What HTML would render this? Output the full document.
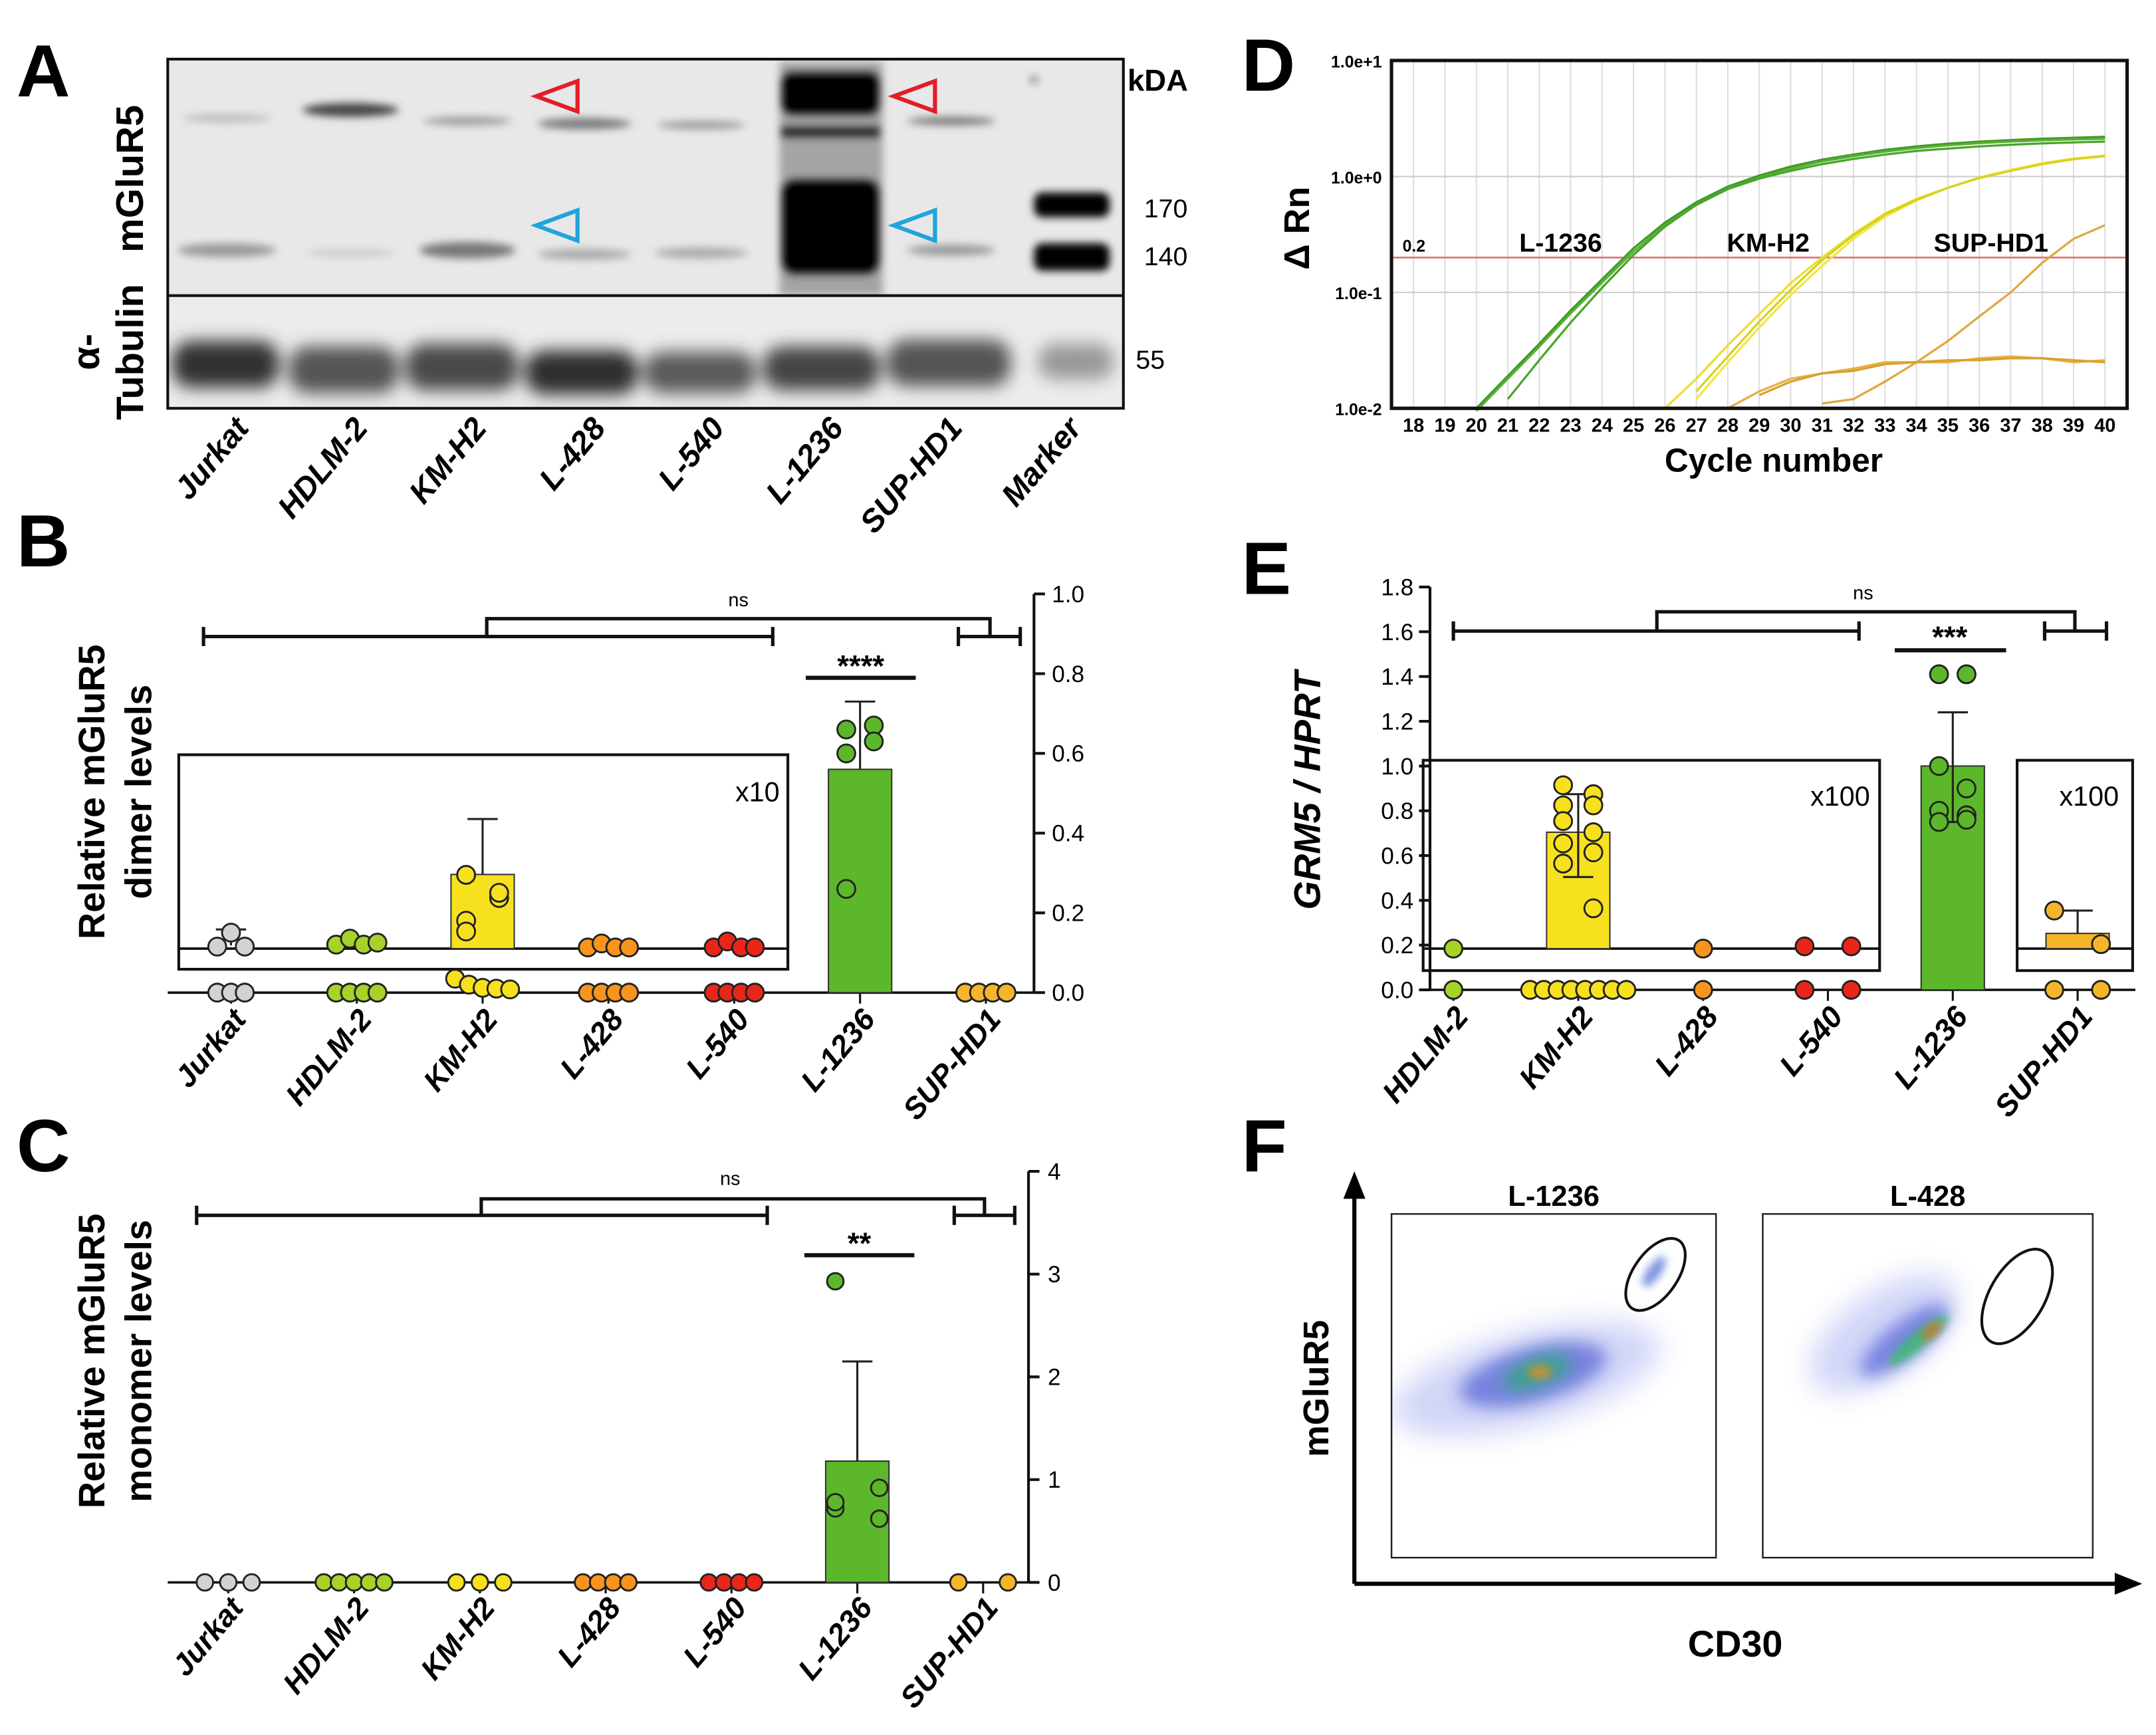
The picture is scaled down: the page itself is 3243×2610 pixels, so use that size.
<!DOCTYPE html>
<html><head><meta charset="utf-8"><style>
html,body{margin:0;padding:0;background:#fff;}
svg{display:block;font-family:"Liberation Sans",Arial,sans-serif;}
</style></head><body>
<svg id="fig" xmlns="http://www.w3.org/2000/svg" width="3243" height="2610" viewBox="0 0 1568 1262" preserveAspectRatio="none">
<defs>
<filter id="blur3" x="-50%" y="-50%" width="200%" height="200%"><feGaussianBlur stdDeviation="3"/></filter>
<filter id="blur6" x="-50%" y="-50%" width="200%" height="200%"><feGaussianBlur stdDeviation="6"/></filter>
<filter id="blur10" x="-50%" y="-50%" width="200%" height="200%"><feGaussianBlur stdDeviation="10"/></filter>
<clipPath id="blotTop"><rect x="122" y="43" width="695" height="172"/></clipPath>
<clipPath id="blotBot"><rect x="122" y="215" width="695" height="82"/></clipPath>
<clipPath id="f1"><rect x="1012" y="883" width="236" height="250"/></clipPath>
<clipPath id="f2"><rect x="1282" y="883" width="240" height="250"/></clipPath>
</defs>

<text x="12" y="70" font-size="54" font-weight="bold">A</text>
<text x="12" y="412" font-size="54" font-weight="bold">B</text>
<text x="12" y="852" font-size="54" font-weight="bold">C</text>
<text x="903" y="66" font-size="54" font-weight="bold">D</text>
<text x="903" y="432" font-size="54" font-weight="bold">E</text>
<text x="903" y="852" font-size="54" font-weight="bold">F</text>

<g>
<g clip-path="url(#blotTop)">
<rect x="122" y="43" width="695" height="172" fill="#e8e8e8"/>
<g filter="url(#blur3)" fill="#555">
<ellipse cx="165" cy="86" rx="32" ry="3" fill="#bbb"/>
<ellipse cx="255" cy="80" rx="35" ry="5" fill="#444"/>
<ellipse cx="340" cy="88" rx="32" ry="3" fill="#999"/>
<ellipse cx="425" cy="90" rx="34" ry="4" fill="#777"/>
<ellipse cx="510" cy="91" rx="32" ry="3" fill="#999"/>
<ellipse cx="692" cy="88" rx="32" ry="3" fill="#777"/>
<ellipse cx="165" cy="182" rx="36" ry="5" fill="#999"/>
<ellipse cx="255" cy="184" rx="32" ry="3" fill="#ccc"/>
<ellipse cx="340" cy="182" rx="35" ry="6" fill="#777"/>
<ellipse cx="425" cy="185" rx="34" ry="4" fill="#aaa"/>
<ellipse cx="510" cy="184" rx="34" ry="4" fill="#aaa"/>
<ellipse cx="692" cy="182" rx="32" ry="4" fill="#999"/>
</g>
<g filter="url(#blur3)">
<rect x="567" y="45" width="75" height="170" fill="#777" opacity="0.6"/>
<rect x="568" y="52" width="72" height="32" rx="8" fill="#000"/>
<rect x="568" y="92" width="72" height="8" fill="#222"/>
<rect x="568" y="130" width="72" height="70" rx="10" fill="#000"/>
<rect x="752" y="140" width="55" height="18" rx="6" fill="#000"/>
<rect x="752" y="177" width="55" height="20" rx="6" fill="#000"/>
<circle cx="752" cy="58" r="2" fill="#222"/>
</g>
</g>
<g clip-path="url(#blotBot)">
<rect x="122" y="215" width="695" height="82" fill="#ececec"/>
<g filter="url(#blur6)">
<rect x="125" y="248" width="78" height="34" rx="14" fill="#333"/>
<rect x="210" y="252" width="80" height="34" rx="14" fill="#555"/>
<rect x="295" y="250" width="82" height="34" rx="14" fill="#4a4a4a"/>
<rect x="382" y="255" width="82" height="32" rx="14" fill="#2e2e2e"/>
<rect x="468" y="256" width="82" height="30" rx="14" fill="#5a5a5a"/>
<rect x="555" y="252" width="85" height="32" rx="14" fill="#444"/>
<rect x="645" y="247" width="90" height="34" rx="14" fill="#555"/>
<rect x="755" y="250" width="55" height="26" rx="12" fill="#999"/>
</g>
</g>
<rect x="122" y="43" width="695" height="254" fill="none" stroke="#111" stroke-width="2"/>
<line x1="122" y1="215" x2="817" y2="215" stroke="#111" stroke-width="2"/>
<polygon points="390,70 420,59 420,81" fill="none" stroke="#e41e26" stroke-width="3"/>
<polygon points="650,70 680,59 680,81" fill="none" stroke="#e41e26" stroke-width="3"/>
<polygon points="390,164 420,153 420,175" fill="none" stroke="#1ea5dc" stroke-width="3"/>
<polygon points="650,164 680,153 680,175" fill="none" stroke="#1ea5dc" stroke-width="3"/>
<text x="820" y="66" font-size="22" font-weight="bold">kDA</text>
<text x="832" y="158" font-size="19">170</text>
<text x="832" y="193" font-size="19">140</text>
<text x="826" y="268" font-size="19">55</text>
<text transform="translate(104,130) rotate(-90)" text-anchor="middle" font-size="28" font-weight="bold">mGluR5</text>
<text transform="translate(72,256) rotate(-90)" text-anchor="middle" font-size="28" font-weight="bold">α-</text>
<text transform="translate(104,256) rotate(-90)" text-anchor="middle" font-size="28" font-weight="bold">Tubulin</text>
<g id="blotLanes"></g>
</g>

<g id="panelB"></g>
<g id="panelC"></g>
<g id="panelD"></g>
<g id="panelE"></g>

<g>
<line x1="985" y1="1152" x2="985" y2="870" stroke="#000" stroke-width="3"/>
<polygon points="977,872 993,872 985,852" fill="#000"/>
<line x1="985" y1="1152" x2="1540" y2="1152" stroke="#000" stroke-width="3"/>
<polygon points="1538,1144 1538,1160 1558,1152" fill="#000"/>
<text transform="translate(966,1010) rotate(-90)" text-anchor="middle" font-size="26" font-weight="bold">mGluR5</text>
<text x="1262" y="1205" text-anchor="middle" font-size="27" font-weight="bold">CD30</text>
<text x="1130" y="877" text-anchor="middle" font-size="21" font-weight="bold">L-1236</text>
<text x="1402" y="877" text-anchor="middle" font-size="21" font-weight="bold">L-428</text>
<g clip-path="url(#f1)">
<ellipse cx="1110" cy="1003" rx="100" ry="34" transform="rotate(-15 1110 1003)" fill="#4a5ae0" opacity="0.25" filter="url(#blur10)"/>
<ellipse cx="1115" cy="1000" rx="55" ry="20" transform="rotate(-15 1115 1000)" fill="#2230c8" opacity="0.5" filter="url(#blur6)"/>
<ellipse cx="1118" cy="998" rx="26" ry="10" transform="rotate(-20 1118 998)" fill="#22b070" opacity="0.75" filter="url(#blur6)"/>
<ellipse cx="1120" cy="998" rx="9" ry="5" fill="#e09020" opacity="0.8" filter="url(#blur3)"/>
<ellipse cx="1203" cy="925" rx="13" ry="5" transform="rotate(-55 1203 925)" fill="#2a50d0" opacity="0.6" filter="url(#blur3)"/>
<ellipse cx="1204" cy="927" rx="30" ry="16" transform="rotate(-55 1204 927)" fill="none" stroke="#111" stroke-width="2"/>
</g>
<rect x="1012" y="883" width="236" height="250" fill="none" stroke="#222" stroke-width="1.2"/>
<g clip-path="url(#f2)">
<ellipse cx="1370" cy="970" rx="62" ry="30" transform="rotate(-35 1370 970)" fill="#4a5ae0" opacity="0.25" filter="url(#blur10)"/>
<ellipse cx="1385" cy="975" rx="40" ry="13" transform="rotate(-38 1385 975)" fill="#2230c8" opacity="0.5" filter="url(#blur6)"/>
<ellipse cx="1395" cy="975" rx="28" ry="6" transform="rotate(-40 1395 975)" fill="#30c060" opacity="0.75" filter="url(#blur3)"/>
<ellipse cx="1405" cy="968" rx="9" ry="4" transform="rotate(-40 1405 968)" fill="#e07020" opacity="0.8" filter="url(#blur3)"/>
<ellipse cx="1467" cy="943" rx="38" ry="20" transform="rotate(-60 1467 943)" fill="none" stroke="#111" stroke-width="2"/>
</g>
<rect x="1282" y="883" width="240" height="250" fill="none" stroke="#222" stroke-width="1.2"/>
</g>

<script>
const catsB = ['Jurkat','HDLM-2','KM-H2','L-428','L-540','L-1236','SUP-HD1'];
const colors = ['#d2d2d2','#a6d22a','#f7e11e','#f7941d','#e8261a','#5cb82a','#f5b52a'];
const blotLanes = ['Jurkat','HDLM-2','KM-H2','L-428','L-540','L-1236','SUP-HD1','Marker'];

const bTicks = [0,0.2,0.4,0.6,0.8,1.0];
const bBarMain = [0,0,0,0,0,0.56,0];
const bErrMain = [0,0,0,0,0,0.73,0];
const bPtsMain = [[0,0,0],[0,0,0,0],[0.035,0.02,0.012,0.01,0.008],[0,0,0,0],[0,0,0,0],[0.66,0.67,0.60,0.63,0.26],[0,0,0,0]];
const bBarInset = [0.0008,0,0.0186,0,0,null,null];
const bErrInset = [0.0048,0,0.0325,0,0,null,null];
const bPtsInset = [[0.0005,0.0040,0.0005],[0.0010,0.0025,0.0010,0.0015],[0.0070,0.0127,0.0185,0.0140,0.0043],[0.0003,0.0013,0.0003,0.0003],[0.0003,0.0018,0.0003,0.0003],null,null];

const cTicks = [0,1,2,3,4];
const cBar = [0,0,0,0,0,1.18,0];
const cErr = [0,0,0,0,0,2.15,0];
const cPts = [[0,0,0],[0,0,0,0,0],[0,0,0],[0,0,0,0],[0,0,0,0],[0.72,0.62,2.93,0.92,0.78],[0,0]];

const dCycles = [18,19,20,21,22,23,24,25,26,27,28,29,30,31,32,33,34,35,36,37,38,39,40];
const dTickLabels = ['1.0e+1','1.0e+0','1.0e-1','1.0e-2'];
const dL1236a = [null,null,0.010,0.019,0.036,0.07,0.13,0.24,0.40,0.60,0.82,1.02,1.22,1.40,1.55,1.70,1.82,1.92,2.00,2.06,2.12,2.16,2.20];
const dL1236b = [null,null,0.0095,0.018,0.034,0.066,0.122,0.225,0.38,0.57,0.78,0.98,1.17,1.35,1.50,1.64,1.76,1.86,1.94,2.00,2.05,2.09,2.12];
const dL1236c = [null,null,null,0.012,0.026,0.055,0.11,0.21,0.37,0.57,0.78,0.96,1.12,1.28,1.42,1.55,1.66,1.74,1.82,1.88,1.93,1.97,2.00];
const dKMH2a = [null,null,null,null,null,null,null,null,0.010,0.018,0.035,0.065,0.12,0.20,0.32,0.48,0.64,0.80,0.98,1.14,1.30,1.43,1.52];
const dKMH2b = [null,null,null,null,null,null,null,null,null,0.012,0.025,0.050,0.095,0.17,0.29,0.45,0.62,0.80,0.98,1.14,1.30,1.43,1.52];
const dKMH2c = [null,null,null,null,null,null,null,null,null,0.014,0.028,0.056,0.105,0.19,0.31,0.47,0.63,0.80,0.97,1.12,1.28,1.41,1.50];
const dSUPa = [null,null,null,null,null,null,null,null,null,null,null,null,null,0.011,0.012,0.017,0.025,0.038,0.062,0.10,0.18,0.29,0.38];
const dSUPb = [null,null,null,null,null,null,null,null,null,null,0.010,0.014,0.018,0.020,0.022,0.025,0.025,0.025,0.027,0.028,0.027,0.025,0.026];
const dSUPc = [null,null,null,null,null,null,null,null,null,null,null,0.013,0.017,0.020,0.021,0.024,0.025,0.026,0.026,0.027,0.027,0.026,0.025];
const dThreshold = 0.2;

const catsE = ['HDLM-2','KM-H2','L-428','L-540','L-1236','SUP-HD1'];
const colorsE = ['#a6d22a','#f7e11e','#f7941d','#e8261a','#5cb82a','#f5b52a'];
const eTicks = [0,0.2,0.4,0.6,0.8,1.0,1.2,1.4,1.6,1.8];
const eBarMain = [0,0,0,0,1.0,0];
const eErrHiMain = [0,0,0,0,1.24,0];
const eErrLoMain = [0,0,0,0,0.75,0];
const ePtsMain = [[0],[0,0,0,0,0,0,0,0],[0],[0,0],[1.41,1.41,1.0,0.9,0.8,0.78,0.75,0.76],[0,0]];
const eBarInset = [0,0.0052,0,0.0001,null,0.00068];
const eErrHiInset = [0,0.0069,0,0,null,0.0017];
const eErrLoInset = [0,0.0032,0,0,null,0];
const ePtsInset = [[0],[0.0073,0.0069,0.0064,0.0064,0.0057,0.0052,0.0047,0.0043,0.0038,0.0018],[0],[0.0001,0.0001],null,[0.0017,0.0002]];

const NS = 'http://www.w3.org/2000/svg';
function mk(parent, tag, attrs, name) {
  const el = document.createElementNS(NS, tag);
  for (const k in attrs) el.setAttribute(k, attrs[k]);
  
  
  parent.appendChild(el);
  return el;
}
function txt(parent, x, y, s, size, name, extra) {
  const t = mk(parent, 'text', Object.assign({x:x, y:y, 'font-size':size}, extra||{}), name);
  t.textContent = s;
  return t;
}
function catLabel(parent, x, y, s, name, size) {
  const t = mk(parent, 'text', {transform:'translate('+x+','+y+') rotate(-50)', 'text-anchor':'end', 'font-size':size||22, 'font-weight':'bold', 'font-style':'italic'}, name);
  t.textContent = s;
}
function dots(parent, cx, yfun, vals, col, r, sp, name, jitter) {
  const n = vals.length;
  vals.forEach((v,i)=>{
    const off = jitter ? ((i%2)*2-1)*sp : (i-(n-1)/2)*sp;
    mk(parent,'circle',{cx: cx + off, cy: yfun(v), r:r, fill:col, stroke:'#222','stroke-width':1.4}, name+'-'+i);
  });
}
function errbar(parent, cx, y1, y2, name) {
  mk(parent,'line',{x1:cx,y1:y1,x2:cx,y2:y2,stroke:'#222','stroke-width':1.5}, name);
  mk(parent,'line',{x1:cx-11,y1:y2,x2:cx+11,y2:y2,stroke:'#222','stroke-width':1.5}, name+'-cap');
}
function bracket(parent, x1, x2, y, name) {
  mk(parent,'path',{d:'M'+x1+' '+(y-7)+'V'+(y+7)+'M'+x1+' '+y+'H'+x2+'M'+x2+' '+(y-7)+'V'+(y+7), fill:'none', stroke:'#111','stroke-width':2.5}, name);
}

const gl = document.getElementById('blotLanes');
blotLanes.forEach((s,i)=>{
  catLabel(gl, 182 + i*86.5, 312, s, 'blot-lane-label-'+s.toLowerCase(), 23);
});

(function(){
  const g = document.getElementById('panelB');
  const y = v => 722 - v*290;
  const yi = v => 690 - v*2900;
  const cx = i => 168 + i*91.5;
  mk(g,'rect',{x:130,y:549,width:443,height:156,fill:'none',stroke:'#111','stroke-width':2},'b-inset-box');
  txt(g,567,583,'x10',20,'b-inset-scale',{'text-anchor':'end'});
  mk(g,'line',{x1:130,y1:690,x2:573,y2:690,stroke:'#111','stroke-width':1.8},'b-inset-baseline');
  mk(g,'line',{x1:752,y1:722,x2:752,y2:y(1.0),stroke:'#111','stroke-width':2},'b-y-axis');
  mk(g,'line',{x1:122,y1:722,x2:752,y2:722,stroke:'#111','stroke-width':1.8},'b-x-axis');
  bTicks.forEach(t=>{
    mk(g,'line',{x1:752,y1:y(t),x2:760,y2:y(t),stroke:'#111','stroke-width':2},'b-y-tick');
    txt(g,765,y(t)+6,t.toFixed(1),17,'b-y-tick-label');
  });
  catsB.forEach((c,i)=>{
    mk(g,'line',{x1:cx(i),y1:722,x2:cx(i),y2:730,stroke:'#111','stroke-width':1.5},'b-x-tick');
    if (bBarMain[i] > 0) {
      mk(g,'rect',{x:cx(i)-23,y:y(bBarMain[i]),width:46,height:722-y(bBarMain[i]),fill:colors[i],stroke:'#333','stroke-width':1},'b-bar-'+c);
      errbar(g,cx(i),y(bBarMain[i]),y(bErrMain[i]),'b-error-'+c);
    }
    if (bBarInset[i] !== null && bBarInset[i] > 0.005) {
      mk(g,'rect',{x:cx(i)-23,y:yi(bBarInset[i]),width:46,height:690-yi(bBarInset[i]),fill:colors[i],stroke:'#333','stroke-width':1},'b-inset-bar-'+c);
    }
    if (bErrInset[i]) errbar(g,cx(i),yi(bBarInset[i]),yi(bErrInset[i]),'b-inset-error-'+c);
    if (bPtsInset[i]) {
      if (i===2) dots(g,cx(i),yi,bPtsInset[i],colors[i],6.5,12,'b-inset-point-'+c,true);
      else dots(g,cx(i),yi,bPtsInset[i],colors[i],6.5,10,'b-inset-point-'+c);
    }
    if (i===5) dots(g,cx(i),y,bPtsMain[i],colors[i],6.5,10,'b-point-'+c,true);
    else dots(g,cx(i),y,bPtsMain[i],colors[i],6.5,10,'b-point-'+c);
    catLabel(g,cx(i)+12,742,c,'b-x-label-'+c);
  });
  bracket(g,148,562,463,'b-bracket-left');
  bracket(g,697,742,463,'b-bracket-right');
  mk(g,'path',{d:'M354 463V450H720V463',fill:'none',stroke:'#111','stroke-width':2.5},'b-bracket-top');
  txt(g,537,441,'ns',14,'b-ns-label',{'text-anchor':'middle'});
  mk(g,'line',{x1:586,y1:493,x2:666,y2:493,stroke:'#111','stroke-width':3},'b-sig-line');
  txt(g,626,492,'****',22,'b-sig-stars',{'text-anchor':'middle','font-weight':'bold'});
  txt(g,0,0,'Relative mGluR5',27,'b-y-title-1',{transform:'translate(76,576) rotate(-90)','text-anchor':'middle','font-weight':'bold'});
  txt(g,0,0,'dimer levels',27,'b-y-title-2',{transform:'translate(110,576) rotate(-90)','text-anchor':'middle','font-weight':'bold'});
})();

(function(){
  const g = document.getElementById('panelC');
  const y = v => 1151 - v*74.75;
  const cx = i => 166 + i*91.5;
  mk(g,'line',{x1:748,y1:1151,x2:748,y2:y(4),stroke:'#111','stroke-width':2},'c-y-axis');
  mk(g,'line',{x1:122,y1:1151,x2:748,y2:1151,stroke:'#111','stroke-width':1.8},'c-x-axis');
  cTicks.forEach(t=>{
    mk(g,'line',{x1:748,y1:y(t),x2:756,y2:y(t),stroke:'#111','stroke-width':2},'c-y-tick');
    txt(g,762,y(t)+6,String(t),17,'c-y-tick-label');
  });
  catsB.forEach((c,i)=>{
    mk(g,'line',{x1:cx(i),y1:1151,x2:cx(i),y2:1159,stroke:'#111','stroke-width':1.5},'c-x-tick');
    if (cBar[i] > 0) {
      mk(g,'rect',{x:cx(i)-23,y:y(cBar[i]),width:46,height:1151-y(cBar[i]),fill:colors[i],stroke:'#333','stroke-width':1},'c-bar-'+c);
      errbar(g,cx(i),y(cBar[i]),y(cErr[i]),'c-error-'+c);
    }
    const sp = (i===6)?36:(i===0||i===2)?17:11;
    if (i===5) dots(g,cx(i),y,cPts[i],colors[i],6,16,'c-point-'+c,true);
    else dots(g,cx(i),y,cPts[i],colors[i],6,sp,'c-point-'+c);
    catLabel(g,cx(i)+12,1170,c,'c-x-label-'+c);
  });
  bracket(g,143,558,884,'c-bracket-left');
  bracket(g,694,738,884,'c-bracket-right');
  mk(g,'path',{d:'M350 884V872H716V884',fill:'none',stroke:'#111','stroke-width':2.5},'c-bracket-top');
  txt(g,531,862,'ns',14,'c-ns-label',{'text-anchor':'middle'});
  mk(g,'line',{x1:585,y1:913,x2:665,y2:913,stroke:'#111','stroke-width':3},'c-sig-line');
  txt(g,625,912,'**',22,'c-sig-stars',{'text-anchor':'middle','font-weight':'bold'});
  txt(g,0,0,'Relative mGluR5',27,'c-y-title-1',{transform:'translate(76,990) rotate(-90)','text-anchor':'middle','font-weight':'bold'});
  txt(g,0,0,'monomer levels',27,'c-y-title-2',{transform:'translate(110,990) rotate(-90)','text-anchor':'middle','font-weight':'bold'});
})();

(function(){
  const g = document.getElementById('panelD');
  const L=1012,R=1547,T=44,B=297;
  const x = c => 1028 + (c-18)*22.86;
  const y = v => B - (Math.log10(v)+2)*84.3;
  mk(g,'rect',{x:L,y:T,width:R-L,height:B-T,fill:'#fff'},'d-plot-bg');
  dCycles.forEach(c=>{
    mk(g,'line',{x1:x(c),y1:T,x2:x(c),y2:B,stroke:'#ddd','stroke-width':1},'d-grid-x');
    txt(g,x(c),314,String(c),14,'d-x-tick-label',{'text-anchor':'middle','font-weight':'bold'});
  });
  dTickLabels.forEach(s=>{
    const v = parseFloat(s);
    mk(g,'line',{x1:L,y1:y(v),x2:R,y2:y(v),stroke:'#ccc','stroke-width':1},'d-grid-y');
    txt(g,1005,y(v)+5,s,12,'d-y-tick-label',{'text-anchor':'end','font-weight':'bold'});
  });
  mk(g,'line',{x1:L,y1:y(dThreshold),x2:R,y2:y(dThreshold),stroke:'#e07070','stroke-width':1.3},'d-threshold-line');
  const series = [[dL1236a,'#3f9a2a','l1236-a'],[dL1236b,'#5cb030','l1236-b'],[dL1236c,'#4aa52c','l1236-c'],
    [dKMH2a,'#e8e030','kmh2-a'],[dKMH2b,'#f0e840','kmh2-b'],[dKMH2c,'#d8d020','kmh2-c'],
    [dSUPa,'#e0a840','sup-a'],[dSUPb,'#e8b040','sup-b'],[dSUPc,'#d8a030','sup-c']];
  series.forEach(([arr,col,nm])=>{
    let d='';
    arr.forEach((v,i)=>{ if(v!==null){ d += (d?'L':'M') + x(dCycles[i]).toFixed(1)+' '+y(v).toFixed(1);} });
    mk(g,'path',{d:d,fill:'none',stroke:col,'stroke-width':1.6},'d-curve-'+nm);
  });
  mk(g,'rect',{x:L,y:T,width:R-L,height:B-T,fill:'none',stroke:'#111','stroke-width':2.5},'d-plot-frame');
  txt(g,1020,183,'0.2',12,'d-threshold-label',{'font-weight':'bold'});
  txt(g,1135,183,'L-1236',19,'d-label-l1236',{'text-anchor':'middle','font-weight':'bold'});
  txt(g,1286,183,'KM-H2',19,'d-label-kmh2',{'text-anchor':'middle','font-weight':'bold'});
  txt(g,1448,183,'SUP-HD1',19,'d-label-suphd1',{'text-anchor':'middle','font-weight':'bold'});
  txt(g,1290,343,'Cycle number',24,'d-x-axis-title',{'text-anchor':'middle','font-weight':'bold'});
  txt(g,0,0,'Δ Rn',26,'d-y-axis-title',{transform:'translate(952,166) rotate(-90)','text-anchor':'middle','font-weight':'bold'});
})();

(function(){
  const g = document.getElementById('panelE');
  const y = v => 720 - v*162.8;
  const yi = v => 690 - v*16280;
  const cx = i => 1057 + i*90.8;
  mk(g,'rect',{x:1035,y:553,width:332,height:153,fill:'none',stroke:'#111','stroke-width':2},'e-inset-box-1');
  mk(g,'rect',{x:1467,y:553,width:84,height:153,fill:'none',stroke:'#111','stroke-width':2},'e-inset-box-2');
  txt(g,1360,586,'x100',20,'e-inset-scale-1',{'text-anchor':'end'});
  txt(g,1541,586,'x100',20,'e-inset-scale-2',{'text-anchor':'end'});
  mk(g,'line',{x1:1035,y1:690,x2:1367,y2:690,stroke:'#111','stroke-width':1.8},'e-inset-baseline-1');
  mk(g,'line',{x1:1467,y1:690,x2:1551,y2:690,stroke:'#111','stroke-width':1.8},'e-inset-baseline-2');
  mk(g,'line',{x1:1040,y1:720,x2:1040,y2:y(1.8),stroke:'#111','stroke-width':2},'e-y-axis');
  mk(g,'line',{x1:1040,y1:720,x2:1553,y2:720,stroke:'#111','stroke-width':1.8},'e-x-axis');
  eTicks.forEach(t=>{
    mk(g,'line',{x1:1032,y1:y(t),x2:1040,y2:y(t),stroke:'#111','stroke-width':2},'e-y-tick');
    txt(g,1028,y(t)+6,t.toFixed(1),17,'e-y-tick-label',{'text-anchor':'end'});
  });
  catsE.forEach((c,i)=>{
    mk(g,'line',{x1:cx(i),y1:720,x2:cx(i),y2:728,stroke:'#111','stroke-width':1.5},'e-x-tick');
    if (eBarMain[i] > 0) {
      mk(g,'rect',{x:cx(i)-23,y:y(eBarMain[i]),width:46,height:720-y(eBarMain[i]),fill:colorsE[i],stroke:'#333','stroke-width':1},'e-bar-'+c);
      errbar(g,cx(i),y(eBarMain[i]),y(eErrHiMain[i]),'e-error-hi-'+c);
      errbar(g,cx(i),y(eBarMain[i]),y(eErrLoMain[i]),'e-error-lo-'+c);
    }
    if (eBarInset[i] !== null && eBarInset[i] > 0.0003) {
      mk(g,'rect',{x:cx(i)-23,y:yi(eBarInset[i]),width:46,height:690-yi(eBarInset[i]),fill:colorsE[i],stroke:'#333','stroke-width':1},'e-inset-bar-'+c);
      errbar(g,cx(i),yi(eBarInset[i]),yi(eErrHiInset[i]),'e-inset-error-hi-'+c);
      if (eErrLoInset[i]) errbar(g,cx(i),yi(eBarInset[i]),yi(eErrLoInset[i]),'e-inset-error-lo-'+c);
    }
    const spM = (i===1)?10:(i===3||i===5)?34:10;
    if (ePtsInset[i]) {
      if (i===1) dots(g,cx(i),yi,ePtsInset[i],colorsE[i],6.5,11,'e-inset-point-'+c,true);
      else dots(g,cx(i),yi,ePtsInset[i],colorsE[i],6.5,spM,'e-inset-point-'+c);
    }
    if (i===4) dots(g,cx(i),y,ePtsMain[i],colorsE[i],6.5,10,'e-point-'+c,true);
    else dots(g,cx(i),y,ePtsMain[i],colorsE[i],6.5,spM,'e-point-'+c);
    catLabel(g,cx(i)+12,740,c,'e-x-label-'+c);
  });
  bracket(g,1057,1352,459,'e-bracket-left');
  bracket(g,1487,1532,459,'e-bracket-right');
  mk(g,'path',{d:'M1205 459V445H1509V459',fill:'none',stroke:'#111','stroke-width':2.5},'e-bracket-top');
  txt(g,1355,436,'ns',14,'e-ns-label',{'text-anchor':'middle'});
  mk(g,'line',{x1:1378,y1:473,x2:1459,y2:473,stroke:'#111','stroke-width':3},'e-sig-line');
  txt(g,1418,471,'***',22,'e-sig-stars',{'text-anchor':'middle','font-weight':'bold'});
  txt(g,0,0,'GRM5 / HPRT',27,'e-y-title',{transform:'translate(960,575) rotate(-90)','text-anchor':'middle','font-weight':'bold','font-style':'italic'});
})();
</script>
</svg>
</body></html>
